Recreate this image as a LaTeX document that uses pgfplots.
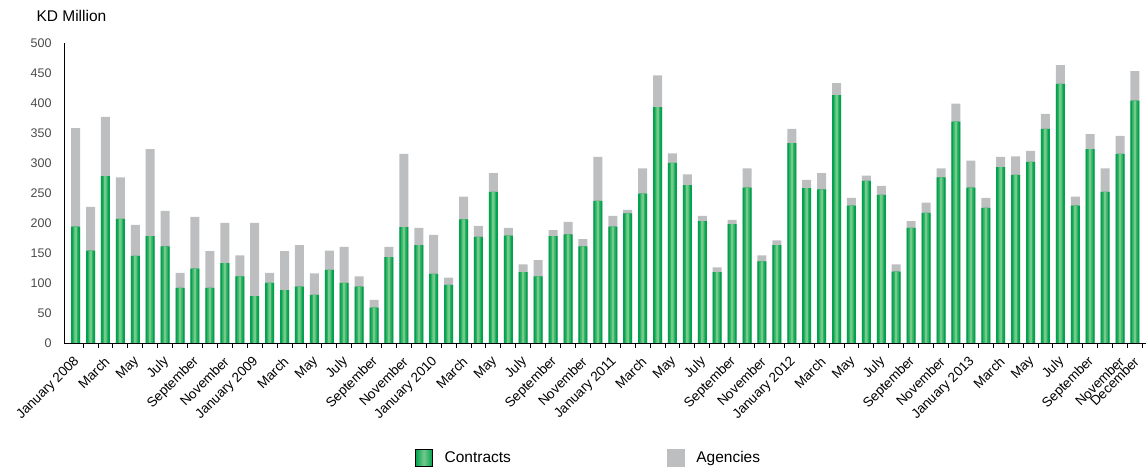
\documentclass[border=0pt]{standalone}
\usepackage{fontspec}
\setmainfont{Liberation Sans}
\usepackage{pgfplots}
\usepackage{pgfplotstable}
\pgfplotsset{compat=1.18}

\definecolor{cgreen}{HTML}{00A24E}
\definecolor{cmid}{HTML}{2FB262}
\definecolor{clight}{HTML}{74C98D}
\definecolor{cgray}{HTML}{BDBEC0}
\definecolor{ylab}{HTML}{4A4A4A}

% month index, contracts, agencies (KD million)
\pgfplotstableread{
m  con  agn
0  194  164
1  154  73
2  278  99
3  207  69
4  145  52
5  178  145
6  161  59
7  92   25
8  124  86
9  92   61
10 133  67
11 111  35
12 78   122
13 100  17
14 88   65
15 94   69
16 80   36
17 122  32
18 100  60
19 94   17
20 59   13
21 143  17
22 193  122
23 163  29
24 115  65
25 97   12
26 206  38
27 177  18
28 252  31
29 179  13
30 118  13
31 111  27
32 178  10
33 181  21
34 161  12
35 237  73
36 194  18
37 216  6
38 249  42
39 393  53
40 300  16
41 263  18
42 203  9
43 118  8
44 198  7
45 259  32
46 136  10
47 163  8
48 333  24
49 258  14
50 256  27
51 413  20
52 229  13
53 270  9
54 247  15
55 119  12
56 192  11
57 217  17
58 276  15
59 369  30
60 259  45
61 225  17
62 293  17
63 280  31
64 302  18
65 357  25
66 432  31
67 229  15
68 323  25
69 252  39
70 315  30
71 404  49
}\datatable

\begin{document}
\begin{tikzpicture}
\path[use as bounding box] (0,0) rectangle (1146pt,471pt);
\node[anchor=base west, font=\fontsize{15.5}{18}\selectfont] at (33pt,449pt) {KD Million};
\begin{axis}[
    at={(64pt,128pt)}, anchor=south west,
    scale only axis, width=1082pt, height=300pt,
    xmin=-0.78, xmax=71.74, ymin=0, ymax=500,
    axis x line=bottom, axis y line=left,
    axis line style={-, black, line width=0.9pt},
    ytick={0,50,...,500},
    ytick style={draw=none},
    yticklabel style={font=\fontsize{12.5}{14}\selectfont, text=ylab, xshift=-9pt},
    xtick={0,2,4,6,8,10,12,14,16,18,20,22,24,26,28,30,32,34,36,38,40,42,44,46,48,50,52,54,56,58,60,62,64,66,68,70,71},
    xticklabels={January 2008,March,May,July,September,November,January 2009,March,May,July,September,November,January 2010,March,May,July,September,November,January 2011,March,May,July,September,November,January 2012,March,May,July,September,November,January 2013,March,May,July,September,November,December},
    xticklabel style={font=\fontsize{13.5}{15}\selectfont, xshift=4pt, yshift=-14pt, rotate=45, anchor=east},
    minor xtick={0.5,1.5,...,71.5},
    major tick length=0pt, minor tick length=5pt,
    tick align=outside,
    minor tick style={black, line width=0.9pt},
    /pgf/number format/assume math mode=true,
    legend columns=2,
    legend style={at={(axis description cs:0.3244,-0.383)}, anchor=west, draw=none, fill=none, inner sep=0pt,
        font=\fontsize{15.5}{18}\selectfont,
        /tikz/every odd column/.append style={column sep=10pt},
        /tikz/every even column/.append style={column sep=154pt}},
    legend cell align=left,
]
% totals (grey part shows the agencies on top of contracts)
\addplot[ybar, bar width=9pt, bar shift=0pt, draw=none, fill=cgray, forget plot]
    table[x=m, y expr=\thisrow{con}+\thisrow{agn}] {\datatable};
% contracts, three layers for the shaded look
\addplot[ybar, bar width=9pt, bar shift=0pt, draw=none, fill=cgreen, forget plot]
    table[x=m, y=con] {\datatable};
\addplot[ybar, bar width=5.5pt, bar shift=0pt, draw=none, fill=cmid, forget plot]
    table[x=m, y=con] {\datatable};
\addplot[ybar, bar width=2.5pt, bar shift=0pt, draw=none, fill=clight, forget plot]
    table[x=m, y=con] {\datatable};

\addlegendimage{legend image code/.code={\fill[left color=cgreen, right color=cgreen, middle color=clight] (0pt,-8.5pt) rectangle (17pt,8.5pt);}}
\addlegendentry{Contracts}
\addlegendimage{legend image code/.code={\fill[cgray] (0pt,-8.5pt) rectangle (17pt,8.5pt);}}
\addlegendentry{Agencies}
\end{axis}
\end{tikzpicture}
\end{document}
